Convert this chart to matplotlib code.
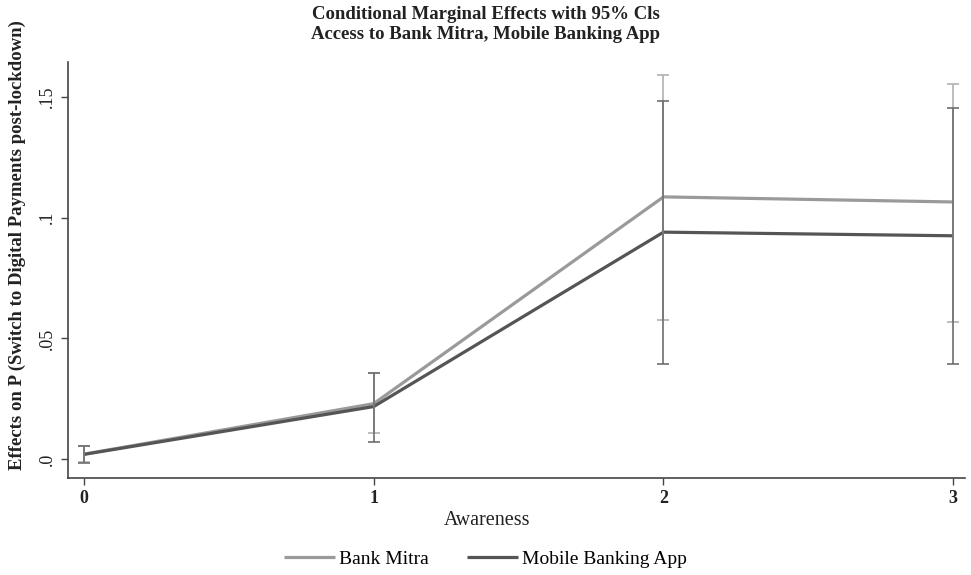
import numpy as np
import matplotlib
matplotlib.use('Agg')
import matplotlib.pyplot as plt

plt.rcParams['font.family'] = ['Liberation Serif', 'DejaVu Serif']

awareness = [0, 1, 2, 3]
# Bank Mitra: margins and 95% CI bounds
bank_mitra = [0.0021, 0.0230, 0.1086, 0.1065]
bank_mitra_lo = [-0.0013, 0.0107, 0.0578, 0.0570]
bank_mitra_hi = [0.0054, 0.0355, 0.1592, 0.1555]
# Mobile Banking App
mobile_app = [0.0020, 0.0218, 0.0940, 0.0925]
mobile_app_lo = [-0.0014, 0.0072, 0.0394, 0.0393]
mobile_app_hi = [0.0055, 0.0359, 0.1483, 0.1455]

bm = np.array(bank_mitra)
mb = np.array(mobile_app)

fig = plt.figure(figsize=(9.71, 5.75), dpi=100)
ax = fig.add_axes([0.070, 0.169, 0.924, 0.723])

light = '#9a9a9a'
dark = '#555555'

ax.plot(awareness, bm, color=light, lw=2.3, zorder=3, label='Bank Mitra',
        solid_capstyle='butt')
ax.plot(awareness, mb, color=dark, lw=2.3, zorder=3, label='Mobile Banking App',
        solid_capstyle='butt')
ax.errorbar(awareness, bm,
            yerr=[bm - np.array(bank_mitra_lo), np.array(bank_mitra_hi) - bm],
            fmt='none', ecolor='#b0b0b0', elinewidth=1.2, capsize=4.5, capthick=1.2, zorder=4)
ax.errorbar(awareness, mb,
            yerr=[mb - np.array(mobile_app_lo), np.array(mobile_app_hi) - mb],
            fmt='none', ecolor='#6e6e6e', elinewidth=1.2, capsize=4.5, capthick=1.2, zorder=5)

ax.set_xlim(-0.055, 3.041)
ax.set_ylim(-0.0077, 0.1644)
ax.set_xticks(awareness)
ax.set_xticklabels(['0', '1', '2', '3'], fontweight='bold', fontsize=13)
ax.set_yticks([0, 0.05, 0.1, 0.15])
ax.set_yticklabels(['.0', '.05', '.1', '.15'], rotation=90, va='center', fontsize=13)

for s in ['top', 'right']:
    ax.spines[s].set_visible(False)
for s in ['left', 'bottom']:
    ax.spines[s].set_color('#444444')
    ax.spines[s].set_linewidth(1.2)
ax.tick_params(direction='out', length=5, width=1, color='#444444', labelcolor='#222222')

ax.set_xlabel('Awareness', fontsize=14.5, color='#222222')
ax.xaxis.set_label_coords(0.467, -0.08)
ax.set_ylabel('Effects on P (Switch to Digital Payments post-lockdown)', fontsize=13.5,
              fontweight='bold', color='#222222')
ax.yaxis.set_label_coords(-0.047, 0.56)

fig.text(0.5, 0.99, 'Conditional Marginal Effects with 95% Cls\nAccess to Bank Mitra, Mobile Banking App',
         ha='center', va='top', fontsize=13.5, fontweight='bold', color='#222222', linespacing=1.25)

fig.legend(loc='lower center', bbox_to_anchor=(0.5, -0.018), ncol=2, frameon=False,
           fontsize=14, handlelength=2.6, handletextpad=0.2, columnspacing=2.0)

fig.savefig('out.png', dpi=100)
